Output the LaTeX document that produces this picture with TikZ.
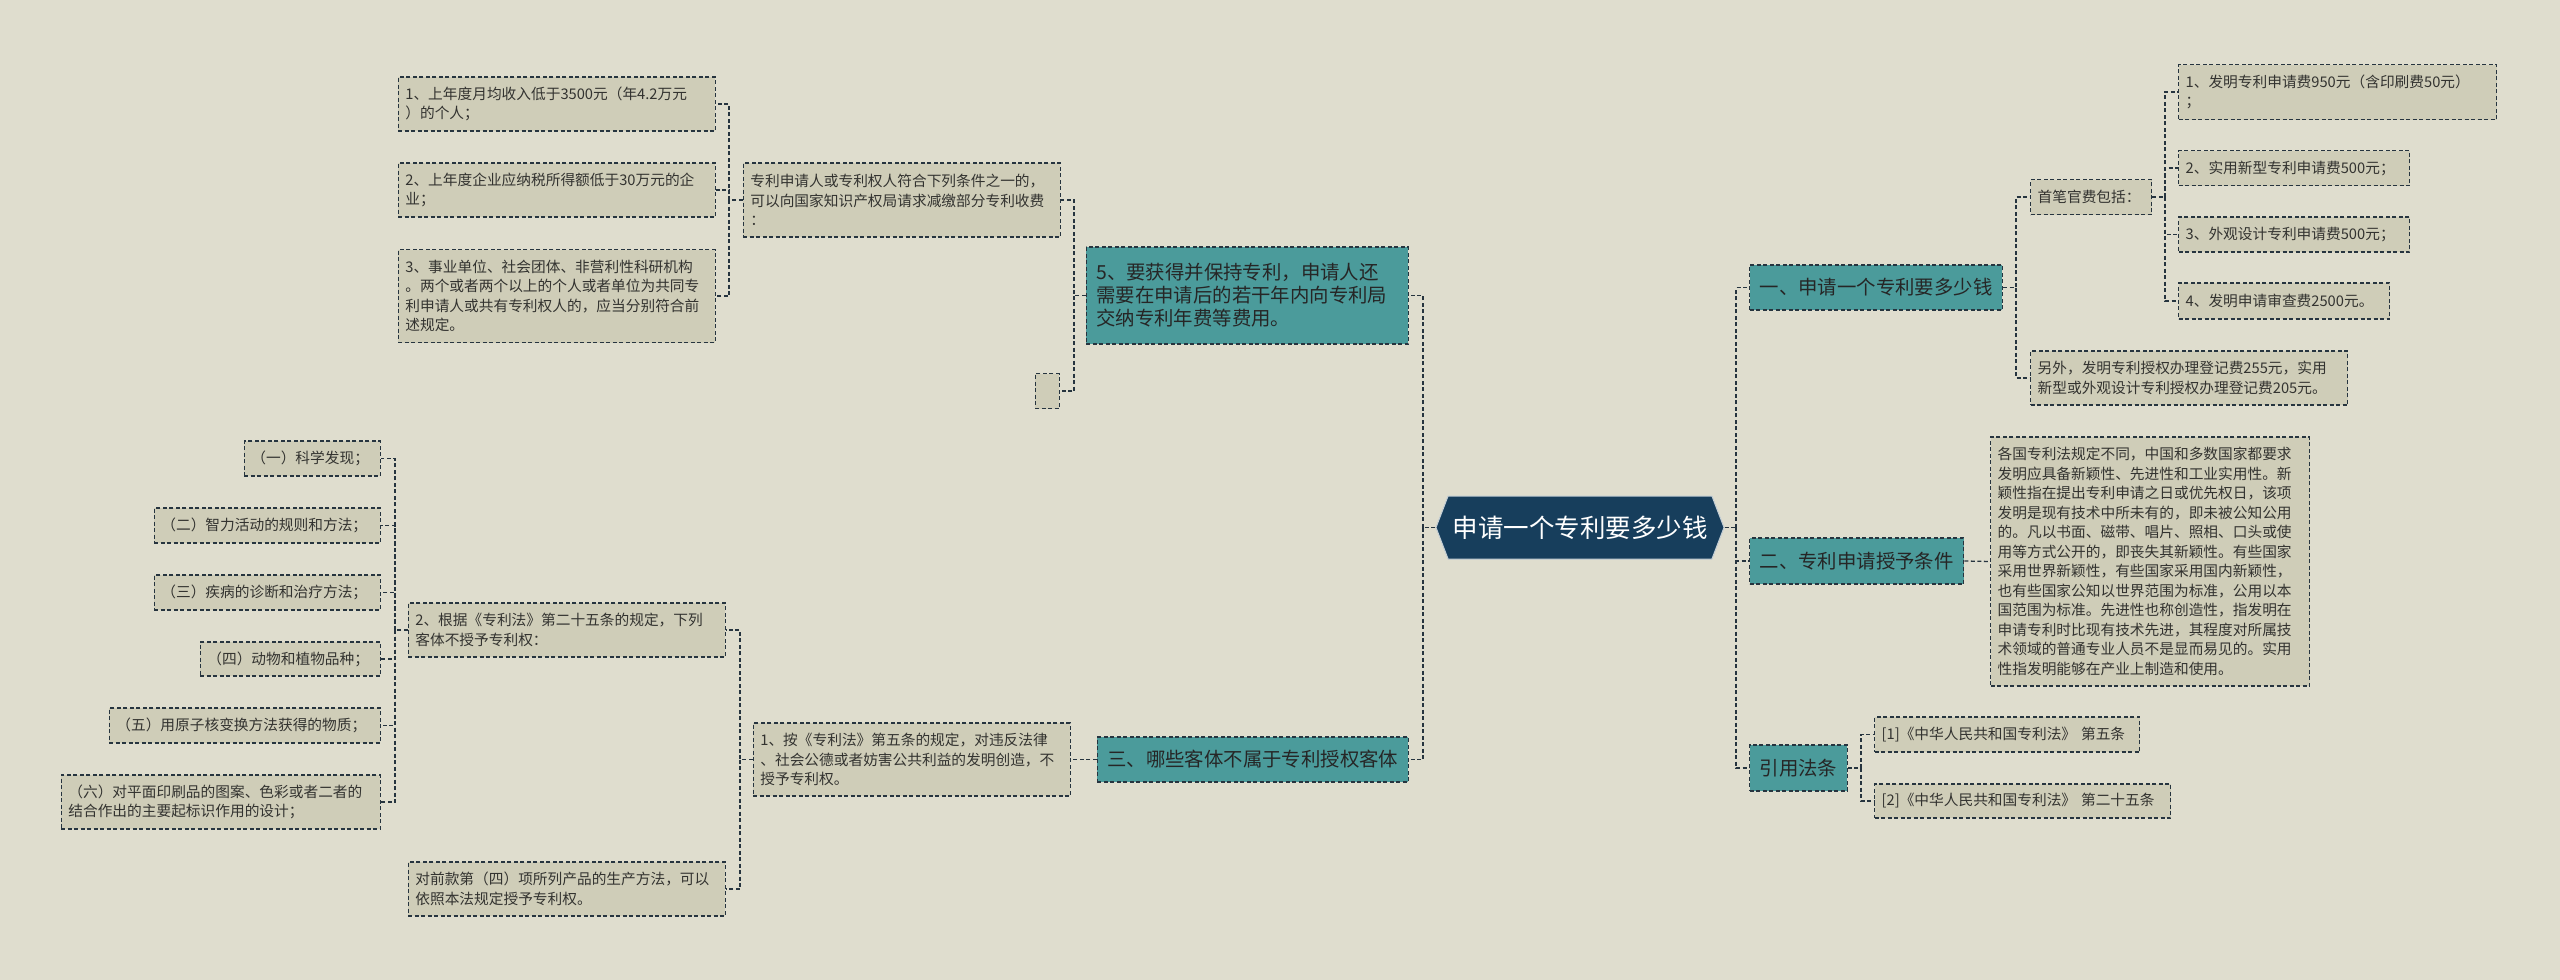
\documentclass[tikz,border=0pt]{standalone}
\usepackage{fontspec}
\setmainfont{Noto Sans CJK SC}
\usepackage{tikz}
\usetikzlibrary{shapes.symbols}
\definecolor{bgpaper}{HTML}{DFDDCE}
\definecolor{lfill}{HTML}{CFCDB8}
\definecolor{tealfill}{HTML}{4B9B9B}
\definecolor{navyfill}{HTML}{173E5C}
\definecolor{edge}{HTML}{26343F}
\definecolor{ink}{HTML}{333330}
\tikzset{
 leaf/.style={draw=edge,dash pattern=on 4pt off 2.5pt,line width=1.3pt,fill=lfill,text=ink,
   align=left,inner xsep=7pt,inner ysep=4pt,font=\fontsize{14.7}{19.5}\selectfont},
 topic/.style={leaf,fill=tealfill,text=black!85,inner xsep=10pt,font=\fontsize{19.4}{23}\selectfont},
 root/.style={signal,signal to=west and east,signal pointer angle=138,fill=navyfill,
   draw=white!75!navyfill,line width=1pt,text=white,font=\fontsize{25.5}{30}\selectfont,
   minimum width=288pt,minimum height=63pt,inner sep=0pt},
 link/.style={draw=edge,line width=1.3pt,dash pattern=on 4pt off 2.5pt}
}
\begin{document}
\begin{tikzpicture}[x=1pt,y=-1pt]
 \fill[bgpaper] (0,0) rectangle (2560,980);
 % centre
 \node[root] (main) at (1580,527.5) {申请一个专利要多少钱};
 % left half
 \node[topic,anchor=east,text width=302pt,minimum height=97pt] (fees) at (1409,295.5) {5、要获得并保持专利，申请人还\\需要在申请后的若干年内向专利局\\交纳专利年费等费用。};
 \node[leaf,anchor=east,text width=303pt,minimum height=74pt] (relief) at (1061,200) {专利申请人或专利权人符合下列条件之一的，\\可以向国家知识产权局请求减缴部分专利收费\\：};
 \node[leaf,anchor=east,minimum width=24pt,minimum height=35pt,inner sep=0pt] (blank) at (1060,391) {};
 \node[leaf,anchor=east,text width=303pt,minimum height=54pt] (rel1) at (716,104) {1、上年度月均收入低于3500元（年4.2万元\\）的个人；};
 \node[leaf,anchor=east,text width=303pt,minimum height=54pt] (rel2) at (716,190) {2、上年度企业应纳税所得额低于30万元的企\\业；};
 \node[leaf,anchor=east,text width=303pt,minimum height=93pt] (rel3) at (716,296) {3、事业单位、社会团体、非营利性科研机构\\。两个或者两个以上的个人或者单位为共同专\\利申请人或共有专利权人的，应当分别符合前\\述规定。};
 \node[topic,anchor=east,minimum height=45pt] (excl) at (1409,759.5) {三、哪些客体不属于专利授权客体};
 \node[leaf,anchor=east,text width=303pt,minimum height=73pt] (art5) at (1071,759.5) {1、按《专利法》第五条的规定，对违反法律\\、社会公德或者妨害公共利益的发明创造，不\\授予专利权。};
 \node[leaf,anchor=east,text width=303pt,minimum height=54pt] (art25) at (726,630) {2、根据《专利法》第二十五条的规定，下列\\客体不授予专利权：};
 \node[leaf,anchor=east,text width=303pt,minimum height=54pt] (proviso) at (726,889) {对前款第（四）项所列产品的生产方法，可以\\依照本法规定授予专利权。};
 \node[leaf,anchor=east,text width=122pt,minimum height=35pt] (ex1) at (381,458.5) {（一）科学发现；};
 \node[leaf,anchor=east,text width=212pt,minimum height=35pt] (ex2) at (381,525.5) {（二）智力活动的规则和方法；};
 \node[leaf,anchor=east,text width=212pt,minimum height=35pt] (ex3) at (381,592.5) {（三）疾病的诊断和治疗方法；};
 \node[leaf,anchor=east,text width=166pt,minimum height=34pt] (ex4) at (381,659) {（四）动物和植物品种；};
 \node[leaf,anchor=east,text width=257pt,minimum height=35pt] (ex5) at (381,725.5) {（五）用原子核变换方法获得的物质；};
 \node[leaf,anchor=east,text width=305pt,minimum height=54pt] (ex6) at (381,802) {（六）对平面印刷品的图案、色彩或者二者的\\结合作出的主要起标识作用的设计；};
 % right half
 \node[topic,anchor=west,minimum height=45pt] (cost) at (1749,287.5) {一、申请一个专利要多少钱};
 \node[leaf,anchor=west,text width=107pt,minimum height=35pt] (first) at (2030,197) {首笔官费包括：};
 \node[leaf,anchor=west,text width=304pt,minimum height=55pt] (fee1) at (2178,92) {1、发明专利申请费950元（含印刷费50元）\\；};
 \node[leaf,anchor=west,text width=217pt,minimum height=35pt] (fee2) at (2178,168) {2、实用新型专利申请费500元；};
 \node[leaf,anchor=west,text width=217pt,minimum height=35pt] (fee3) at (2178,234.5) {3、外观设计专利申请费500元；};
 \node[leaf,anchor=west,text width=197pt,minimum height=36pt] (fee4) at (2178,301) {4、发明申请审查费2500元。};
 \node[leaf,anchor=west,text width=303pt,minimum height=54pt] (extra) at (2030,378) {另外，发明专利授权办理登记费255元，实用\\新型或外观设计专利授权办理登记费205元。};
 \node[topic,anchor=west,minimum height=46pt] (grant) at (1749,561) {二、专利申请授予条件};
 \node[leaf,anchor=west,text width=305pt,minimum height=249pt] (terms) at (1990,561.5) {各国专利法规定不同，中国和多数国家都要求\\发明应具备新颖性、先进性和工业实用性。新\\颖性指在提出专利申请之日或优先权日，该项\\发明是现有技术中所未有的，即未被公知公用\\的。凡以书面、磁带、唱片、照相、口头或使\\用等方式公开的，即丧失其新颖性。有些国家\\采用世界新颖性，有些国家采用国内新颖性，\\也有些国家公知以世界范围为标准，公用以本\\国范围为标准。先进性也称创造性，指发明在\\申请专利时比现有技术先进，其程度对所属技\\术领域的普通专业人员不是显而易见的。实用\\性指发明能够在产业上制造和使用。};
 \node[topic,anchor=west,minimum height=46pt] (refs) at (1749,768) {引用法条};
 \node[leaf,anchor=west,text width=251pt,minimum height=35pt] (ref1) at (1874,734.5) {[1]《中华人民共和国专利法》 第五条};
 \node[leaf,anchor=west,text width=282pt,minimum height=34pt] (ref2) at (1874,801) {[2]《中华人民共和国专利法》 第二十五条};
 % elbow points
 \coordinate (lt) at (1423,527.5);
 \coordinate (rt) at (1736,527.5);
 \coordinate (feesj) at (1074,295.5);
 \coordinate (reliefj) at (729,200);
 \coordinate (art5j) at (740,759.5);
 \coordinate (art25j) at (395,630);
 \coordinate (costj) at (2016,287.5);
 \coordinate (firstj) at (2165,197);
 \coordinate (refsj) at (1861,768);
 % connectors
 \draw[link] (main.west) -- (lt);
 \draw[link] (lt) |- (fees.east);
 \draw[link] (lt) |- (excl.east);
 \draw[link] (fees.west) -- (feesj) |- (relief.east);
 \draw[link] (feesj) |- (blank.east);
 \draw[link] (relief.west) -- (reliefj) |- (rel1.east);
 \draw[link] (reliefj) |- (rel2.east);
 \draw[link] (reliefj) |- (rel3.east);
 \draw[link] (excl.west) -- (art5.east);
 \draw[link] (art5.west) -- (art5j) |- (art25.east);
 \draw[link] (art5j) |- (proviso.east);
 \draw[link] (art25.west) -- (art25j) |- (ex1.east);
 \draw[link] (art25j) |- (ex2.east);
 \draw[link] (art25j) |- (ex3.east);
 \draw[link] (art25j) |- (ex4.east);
 \draw[link] (art25j) |- (ex5.east);
 \draw[link] (art25j) |- (ex6.east);
 \draw[link] (main.east) -- (rt);
 \draw[link] (rt) |- (cost.west);
 \draw[link] (rt) |- (grant.west);
 \draw[link] (rt) |- (refs.west);
 \draw[link] (cost.east) -- (costj) |- (first.west);
 \draw[link] (costj) |- (extra.west);
 \draw[link] (first.east) -- (firstj) |- (fee1.west);
 \draw[link] (firstj) |- (fee2.west);
 \draw[link] (firstj) |- (fee3.west);
 \draw[link] (firstj) |- (fee4.west);
 \draw[link] (grant.east) -- (terms.west);
 \draw[link] (refs.east) -- (refsj) |- (ref1.west);
 \draw[link] (refsj) |- (ref2.west);
\end{tikzpicture}
\end{document}
